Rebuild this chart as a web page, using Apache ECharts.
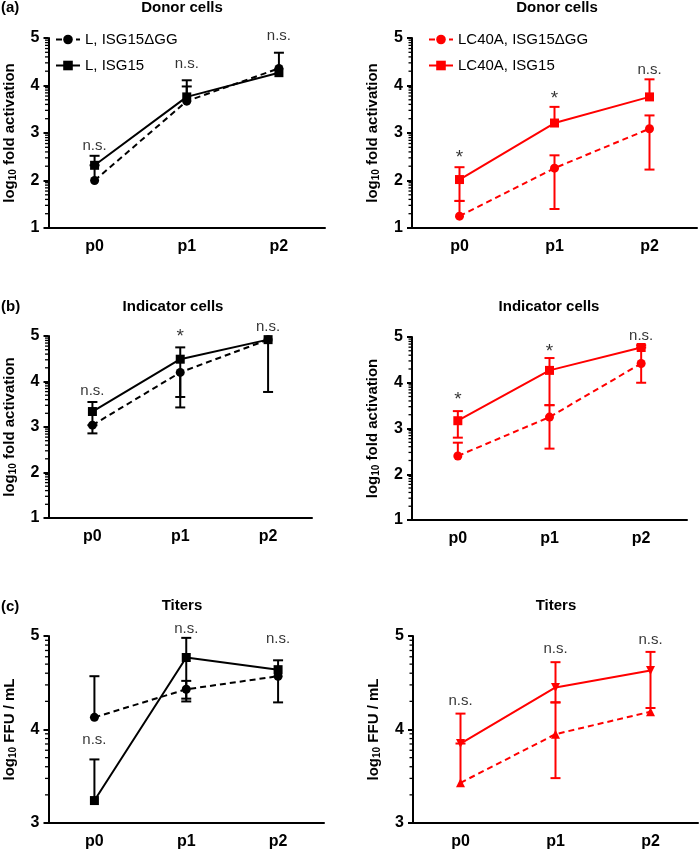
<!DOCTYPE html>
<html><head><meta charset="utf-8">
<script src="https://cdn.jsdelivr.net/npm/echarts@6/dist/echarts.min.js"></script>
<style>html,body{margin:0;padding:0;background:#fff}#c{width:700px;height:850px}</style>
</head><body><div id="c"></div>
<script>
// ---------- data ----------
const categories = ['p0', 'p1', 'p2'];

// (a) Donor cells – L
const aL_dGG = [2.00, 3.67, 4.36];
const aL_dGG_err = [[2.00, 2.32], [3.67, 3.98], [4.36, 4.69]];
const aL_wt = [2.32, 3.76, 4.27];
const aL_wt_err = [[2.32, 2.52], [3.76, 4.11], [4.27, 4.27]];
const aL_sig = ['n.s.', 'n.s.', 'n.s.'];
const aL_sigY = [2.73, 4.46, 5.04];

// (a) Donor cells – LC40A
const aR_dGG = [1.25, 2.26, 3.09];
const aR_dGG_err = [[1.25, 1.57], [1.40, 2.53], [2.23, 3.37]];
const aR_wt = [2.02, 3.21, 3.76];
const aR_wt_err = [[1.57, 2.28], [3.21, 3.55], [3.76, 4.13]];
const aR_sig = ['*', '*', 'n.s.'];
const aR_sigY = [2.48, 3.73, 4.33];

// (b) Indicator cells – L
const bL_dGG = [3.04, 4.20, 4.92];
const bL_dGG_err = [[2.86, 3.04], [3.43, 4.20], [4.92, 4.92]];
const bL_wt = [3.34, 4.49, 4.92];
const bL_wt_err = [[3.04, 3.55], [3.66, 4.75], [3.77, 4.92]];
const bL_sig = ['n.s.', '*', 'n.s.'];
const bL_sigY = [3.80, 4.99, 5.21];

// (b) Indicator cells – LC40A
const bR_dGG = [2.40, 3.25, 4.42];
const bR_dGG_err = [[2.40, 2.69], [2.56, 3.51], [4.00, 4.77]];
const bR_wt = [3.17, 4.27, 4.77];
const bR_wt_err = [[2.80, 3.38], [3.51, 4.54], [4.77, 4.82]];
const bR_sig = ['*', '*', 'n.s.'];
const bR_sigY = [3.63, 4.68, 5.02];

// (c) Titers – L
const cL_dGG = [4.13, 4.43, 4.57];
const cL_dGG_err = [[4.13, 4.57], [4.33, 4.52], [4.29, 4.57]];
const cL_wt = [3.24, 4.77, 4.64];
const cL_wt_err = [[3.24, 3.68], [4.30, 4.98], [4.64, 4.74]];
const cL_sig = ['n.s.', 'n.s.', 'n.s.'];
const cL_sigY = [3.89, 5.08, 4.97];

// (c) Titers – LC40A
const cR_dGG = [3.43, 3.95, 4.19];
const cR_dGG_err = [[3.43, 3.85], [3.48, 4.29], [4.19, 4.19]];
const cR_wt = [3.85, 4.45, 4.63];
const cR_wt_err = [[3.85, 4.17], [4.29, 4.72], [4.23, 4.83]];
const cR_sig = ['n.s.', 'n.s.', 'n.s.'];
const cR_sigY = [4.31, 4.86, 4.96];

const activationTicks = [1, 5];   // min, max of log10 fold activation axes
const titerTicks = [3, 5];        // min, max of log10 FFU/mL axes
const logMinor = [0.301, 0.477, 0.602, 0.699, 0.778, 0.845, 0.903, 0.954];

// ---------- layout ----------
const FONT = "'Liberation Sans', Arial, Helvetica, sans-serif";
const BLACK = '#000000';
const RED = '#ff0000';

const panels = [
  { grid: {left: 39, top: 38, width: 286, height: 190}, range: activationTicks, yname: 'fold activation', color: BLACK,
    dGG: aL_dGG, dGGe: aL_dGG_err, wt: aL_wt, wte: aL_wt_err, sig: aL_sig, sigY: aL_sigY,
    names: ['L, ISG15\u0394GG', 'L, ISG15'], syms: ['circle', 'rect'], rot: [0, 0] },
  { grid: {left: 412, top: 38, width: 285, height: 190}, range: activationTicks, yname: 'fold activation', color: RED,
    dGG: aR_dGG, dGGe: aR_dGG_err, wt: aR_wt, wte: aR_wt_err, sig: aR_sig, sigY: aR_sigY,
    names: ['LC40A, ISG15\u0394GG', 'LC40A, ISG15'], syms: ['circle', 'rect'], rot: [0, 0] },
  { grid: {left: 36, top: 336, width: 276, height: 182}, range: activationTicks, yname: 'fold activation', color: BLACK,
    dGG: bL_dGG, dGGe: bL_dGG_err, wt: bL_wt, wte: bL_wt_err, sig: bL_sig, sigY: bL_sigY,
    names: ['bL1', 'bL2'], syms: ['circle', 'rect'], rot: [0, 0] },
  { grid: {left: 412, top: 337, width: 275, height: 183}, range: activationTicks, yname: 'fold activation', color: RED,
    dGG: bR_dGG, dGGe: bR_dGG_err, wt: bR_wt, wte: bR_wt_err, sig: bR_sig, sigY: bR_sigY,
    names: ['bR1', 'bR2'], syms: ['circle', 'rect'], rot: [0, 0] },
  { grid: {left: 37, top: 636, width: 287, height: 190}, range: titerTicks, yname: 'FFU / mL', color: BLACK,
    dGG: cL_dGG, dGGe: cL_dGG_err, wt: cL_wt, wte: cL_wt_err, sig: cL_sig, sigY: cL_sigY,
    names: ['cL1', 'cL2'], syms: ['circle', 'rect'], rot: [0, 0] },
  { grid: {left: 413, top: 636, width: 285, height: 190}, range: titerTicks, yname: 'FFU / mL', color: RED,
    dGG: cR_dGG, dGGe: cR_dGG_err, wt: cR_wt, wte: cR_wt_err, sig: cR_sig, sigY: cR_sigY,
    names: ['cR1', 'cR2'], syms: ['triangle', 'triangle'], rot: [0, 180] }
];

const grid = [], xAxis = [], yAxis = [], series = [];

function errRender(color) {
  return function (params, api) {
    const i = api.value(0);
    const pl = api.coord([i, api.value(1)]);
    const ph = api.coord([i, api.value(2)]);
    const pv = api.coord([i, api.value(3)]);
    const x = pl[0], cw = 5;
    const st = {stroke: color, lineWidth: 2};
    const ch = [{type: 'line', shape: {x1: x, y1: pl[1], x2: x, y2: ph[1]}, style: st}];
    if (Math.abs(pl[1] - pv[1]) > 0.5) ch.push({type: 'line', shape: {x1: x - cw, y1: pl[1], x2: x + cw, y2: pl[1]}, style: st});
    if (Math.abs(ph[1] - pv[1]) > 0.5) ch.push({type: 'line', shape: {x1: x - cw, y1: ph[1], x2: x + cw, y2: ph[1]}, style: st});
    return {type: 'group', children: ch};
  };
}

function minorRender(params, api) {
  const y = api.coord([0, api.value(1)])[1];
  const x = params.coordSys.x;
  return {type: 'line', shape: {x1: x - 3.5, y1: y, x2: x, y2: y}, style: {stroke: '#000', lineWidth: 1.3}};
}

panels.forEach((p, gi) => {
  grid.push(Object.assign({containLabel: false}, p.grid));
  xAxis.push({
    type: 'category', gridIndex: gi, data: categories, boundaryGap: true,
    axisLine: {lineStyle: {color: '#000', width: 2}},
    axisTick: {alignWithLabel: true, length: 5, lineStyle: {color: '#000', width: 2}},
    axisLabel: {color: '#000', fontWeight: 'bold', fontSize: 16, fontFamily: FONT, margin: 11},
    splitLine: {show: false}
  });
  yAxis.push({
    type: 'value', gridIndex: gi, min: p.range[0], max: p.range[1], interval: 1,
    name: '{a|log}{s|10}{a| ' + p.yname + '}', nameLocation: 'middle', nameGap: 30, nameRotate: 90,
    nameTextStyle: {rich: {
      a: {fontSize: 15, fontWeight: 'bold', fontFamily: FONT, color: '#000', lineHeight: 18},
      s: {fontSize: 10, fontWeight: 'bold', fontFamily: FONT, color: '#000', lineHeight: 18, padding: [7, 0, 0, 0]}
    }},
    axisLine: {show: true, lineStyle: {color: '#000', width: 2}},
    axisTick: {show: true, length: 5, lineStyle: {color: '#000', width: 2}},
    axisLabel: {color: '#000', fontWeight: 'bold', fontSize: 16, fontFamily: FONT, margin: 9},
    splitLine: {show: false}
  });
  // minor log ticks (axis decoration)
  const minor = [];
  for (let d = p.range[0]; d < p.range[1]; d++) logMinor.forEach(m => minor.push([0, d + m]));
  series.push({type: 'custom', xAxisIndex: gi, yAxisIndex: gi, data: minor, renderItem: minorRender,
    encode: {x: 0, y: 1}, silent: true, clip: false, z: 1});
  // error bars
  const mkErr = (vals, errs) => vals.map((v, i) => [i, errs[i][0], errs[i][1], v]);
  series.push({type: 'custom', xAxisIndex: gi, yAxisIndex: gi, data: mkErr(p.dGG, p.dGGe),
    renderItem: errRender(p.color), encode: {x: 0, y: [1, 2]}, silent: true, z: 2});
  series.push({type: 'custom', xAxisIndex: gi, yAxisIndex: gi, data: mkErr(p.wt, p.wte),
    renderItem: errRender(p.color), encode: {x: 0, y: [1, 2]}, silent: true, z: 2});
  // lines
  series.push({
    name: p.names[0], type: 'line', xAxisIndex: gi, yAxisIndex: gi, data: p.dGG,
    symbol: p.syms[0], symbolSize: 9, symbolRotate: p.rot[0],
    lineStyle: {color: p.color, width: 2, type: [6, 4]}, itemStyle: {color: p.color},
    showAllSymbol: true, animation: false, z: 3
  });
  series.push({
    name: p.names[1], type: 'line', xAxisIndex: gi, yAxisIndex: gi, data: p.wt,
    symbol: p.syms[1], symbolSize: 9, symbolRotate: p.rot[1],
    lineStyle: {color: p.color, width: 2, type: 'solid'}, itemStyle: {color: p.color},
    showAllSymbol: true, animation: false, z: 3
  });
  // significance labels
  series.push({
    type: 'scatter', xAxisIndex: gi, yAxisIndex: gi, symbolSize: 0, clip: false, silent: true,
    data: p.sig.map((t, i) => [i, p.sigY[i], t]),
    label: {show: true, position: 'inside', color: '#000', textBorderWidth: 0, textBorderColor: 'transparent',
      fontSize: 15, fontFamily: FONT,
      formatter: q => q.data[2] === '*' ? '{st|*}' : q.data[2],
      rich: {st: {fontSize: 19, fontFamily: FONT, color: '#000', textBorderWidth: 0}}},
    z: 4
  });
});

const legendCommon = {
  orient: 'vertical', itemWidth: 24, itemHeight: 12, itemGap: 11,
  textStyle: {fontSize: 15, fontFamily: FONT, color: '#000'}, selectedMode: false
};

const titleText = (t, x, y) => ({type: 'text', x: x, y: y,
  style: {text: t, fill: '#000', font: 'bold 15px ' + FONT, textAlign: 'center', textVerticalAlign: 'middle', align: 'center', verticalAlign: 'middle'}});
const labText = (t, x, y) => ({type: 'text', x: x, y: y,
  style: {text: t, fill: '#000', font: 'bold 15px ' + FONT, textAlign: 'left', textVerticalAlign: 'middle', align: 'left', verticalAlign: 'middle'}});

const chart = echarts.init(document.getElementById('c'), null, {renderer: 'canvas'});
chart.setOption({
  backgroundColor: '#fff',
  animation: false,
  grid, xAxis, yAxis, series,
  legend: [
    Object.assign({left: 50, top: 27, data: [panels[0].names[0], panels[0].names[1]]}, legendCommon),
    Object.assign({left: 423, top: 27, data: [panels[1].names[0], panels[1].names[1]]}, legendCommon)
  ],
  graphic: [
    labText('(a)', 1, 8), labText('(b)', 1, 307), labText('(c)', 1, 607),
    titleText('Donor cells', 182, 8), titleText('Donor cells', 557, 8),
    titleText('Indicator cells', 173, 307), titleText('Indicator cells', 549, 307),
    titleText('Titers', 182, 606), titleText('Titers', 556, 606)
  ]
});
</script>
</body></html>
